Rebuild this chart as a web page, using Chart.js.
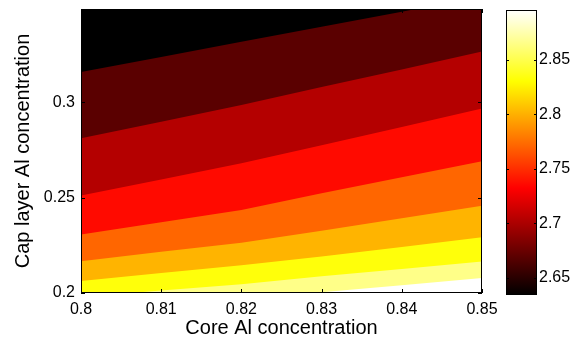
<!DOCTYPE html>
<html>
<head>
<meta charset="utf-8">
<script src="https://cdn.jsdelivr.net/npm/chart.js@4/dist/chart.umd.min.js"></script>
<style>
  body { margin: 0; background: #fff; }
  #wrap { position: relative; width: 586px; height: 340px; }
  #contour { position: absolute; left: 0; top: 0; }
  #colorbar { position: absolute; left: 490px; top: 0; }
</style>
</head>
<body>
<div id="wrap">
  <canvas id="contour" width="500" height="340"></canvas>
  <canvas id="colorbar" width="96" height="340"></canvas>
</div>
<script>
// data
const X_VALUES = [0.80, 0.81, 0.82, 0.83, 0.84, 0.85];

// contour boundaries (cap layer Al at each core Al value), top to bottom
const LEVEL_1 = [0.3159, 0.3238, 0.3318, 0.3397, 0.3476, 0.3556];
const LEVEL_2 = [0.2812, 0.2899, 0.2986, 0.3081, 0.3173, 0.3267];
const LEVEL_3 = [0.2512, 0.2596, 0.2681, 0.2775, 0.2871, 0.2968];
const LEVEL_4 = [0.2307, 0.2371, 0.2436, 0.2523, 0.2607, 0.2691];
const LEVEL_5 = [0.2167, 0.2216, 0.2264, 0.2327, 0.2392, 0.2458];
const LEVEL_6 = [0.2063, 0.2105, 0.2146, 0.2191, 0.2241, 0.2292];
const LEVEL_7 = [0.1979, 0.2013, 0.2046, 0.2088, 0.2126, 0.2165];
const LEVEL_8 = [0.1880, 0.1925, 0.1966, 0.2004, 0.2041, 0.2079];

// band colours, top band first
const BAND_COLORS = ['#000000', '#5a0000', '#b40000', '#ff0a00', '#ff6600', '#ffb400', '#ffff0a', '#ffff88', '#ffffff'];

const X_MIN = 0.8, X_MAX = 0.85;
const Y_MIN = 0.2, Y_MAX = 0.349;
const X_TICKS = [0.8, 0.81, 0.82, 0.83, 0.84, 0.85];
const Y_TICKS = [0.2, 0.25, 0.3];

const CB_MIN = 2.634, CB_MAX = 2.896;
const CB_TICKS = [2.65, 2.7, 2.75, 2.8, 2.85];

const FONT = "'Liberation Sans', Arial, Helvetica, sans-serif";


// plugins
const areaBackground = {
    id: 'areaBackground',
    beforeDatasetsDraw(chart, args, opts) {
        if (!opts.color) return;
        const a = chart.chartArea;
        chart.ctx.save();
        chart.ctx.fillStyle = opts.color;
        chart.ctx.fillRect(a.left, a.top, a.right - a.left, a.bottom - a.top);
        chart.ctx.restore();
    }
};

// matlab style box with ticks pointing inwards
const matlabBox = {
    id: 'matlabBox',
    afterDraw(chart, args, opts) {
        const ctx = chart.ctx;
        const a = chart.chartArea;
        const len = opts.tickLength || 4;
        ctx.save();
        ctx.strokeStyle = '#000';
        ctx.lineWidth = 1;
        ctx.beginPath();
        if (opts.xTicks) {
            const xs = chart.scales.x;
            xs.ticks.forEach(t => {
                const px = Math.round(xs.getPixelForValue(t.value)) + 0.5;
                ctx.moveTo(px, a.bottom);
                ctx.lineTo(px, a.bottom - len);
                ctx.moveTo(px, a.top);
                ctx.lineTo(px, a.top + len);
            });
        }
        const ys = chart.scales.y;
        ys.ticks.forEach(t => {
            const py = Math.round(ys.getPixelForValue(t.value)) + 0.5;
            ctx.moveTo(a.left, py);
            ctx.lineTo(a.left + len, py);
            ctx.moveTo(a.right, py);
            ctx.lineTo(a.right - len, py);
        });
        ctx.stroke();
        ctx.strokeRect(a.left + 0.5, a.top + 0.5, a.right - a.left - 1, a.bottom - a.top - 1);
        ctx.restore();
    }
};

// fixed axis sizes, no extra room for the end labels
function fixWidth(w) {
    return s => { s.width = w; s.paddingTop = 0; s.paddingBottom = 0; };
}
function fixHeight(h) {
    return s => { s.height = h; s.paddingLeft = 0; s.paddingRight = 0; };
}


// contour plot
function toPoints(values) {
    return X_VALUES.map((x, i) => ({x: x, y: values[i]}));
}

// lowest boundary first, so it is painted last (on top)
const levels = [LEVEL_8, LEVEL_7, LEVEL_6, LEVEL_5, LEVEL_4, LEVEL_3, LEVEL_2, LEVEL_1];
const datasets = levels.map((values, i) => ({
    data: toPoints(values),
    fill: 'start',
    backgroundColor: BAND_COLORS[BAND_COLORS.length - 1 - i],
    borderColor: 'rgba(0,0,0,0)',
    borderWidth: 0,
    pointRadius: 0,
    tension: 0
}));

new Chart(document.getElementById('contour'), {
    type: 'line',
    data: {datasets: datasets},
    plugins: [areaBackground, matlabBox],
    options: {
        responsive: false,
        animation: false,
        layout: {padding: {top: 9, right: 18, left: 0, bottom: 0}},
        scales: {
            x: {
                type: 'linear',
                min: X_MIN,
                max: X_MAX,
                afterBuildTicks: s => { s.ticks = X_TICKS.map(v => ({value: v})); },
                afterFit: fixHeight(47),
                grid: {display: false, drawTicks: false},
                border: {display: false},
                ticks: {
                    padding: 7,
                    color: '#000',
                    font: {family: FONT, size: 16},
                    callback: v => String(v)
                },
                title: {
                    display: true,
                    text: 'Core Al concentration',
                    color: '#000',
                    font: {family: FONT, size: 20},
                    padding: {top: 0, bottom: 0}
                }
            },
            y: {
                type: 'linear',
                min: Y_MIN,
                max: Y_MAX,
                afterBuildTicks: s => { s.ticks = Y_TICKS.map(v => ({value: v})); },
                afterFit: fixWidth(81),
                grid: {display: false, drawTicks: false},
                border: {display: false},
                ticks: {
                    padding: 6,
                    color: '#000',
                    font: {family: FONT, size: 16},
                    callback: v => String(v)
                },
                title: {
                    display: true,
                    text: 'Cap layer Al concentration',
                    color: '#000',
                    font: {family: FONT, size: 20},
                    padding: {top: 11, bottom: 0}
                }
            }
        },
        plugins: {
            legend: {display: false},
            tooltip: {enabled: false},
            areaBackground: {color: BAND_COLORS[0]},
            matlabBox: {xTicks: true, tickLength: 4}
        }
    }
});


// colorbar (hot colormap)
function hotGradient(context) {
    const chart = context.chart;
    const a = chart.chartArea;
    if (!a) return '#000';
    const g = chart.ctx.createLinearGradient(0, a.bottom, 0, a.top);
    g.addColorStop(0, '#000000');
    g.addColorStop(0.375, '#ff0000');
    g.addColorStop(0.75, '#ffff00');
    g.addColorStop(1, '#ffffff');
    return g;
}

new Chart(document.getElementById('colorbar'), {
    type: 'bar',
    data: {
        labels: [''],
        datasets: [{
            data: [[CB_MIN, CB_MAX]],
            backgroundColor: hotGradient,
            borderWidth: 0,
            barPercentage: 1,
            categoryPercentage: 1
        }]
    },
    plugins: [matlabBox],
    options: {
        responsive: false,
        animation: false,
        layout: {padding: {top: 10, left: 16, right: 0, bottom: 45}},
        scales: {
            x: {display: false},
            y: {
                position: 'right',
                min: CB_MIN,
                max: CB_MAX,
                afterBuildTicks: s => { s.ticks = CB_TICKS.map(v => ({value: v})); },
                afterFit: fixWidth(49),
                grid: {display: false, drawTicks: false},
                border: {display: false},
                ticks: {
                    padding: 2,
                    color: '#000',
                    font: {family: FONT, size: 16},
                    callback: v => String(v)
                }
            }
        },
        plugins: {
            legend: {display: false},
            tooltip: {enabled: false},
            matlabBox: {xTicks: false, tickLength: 3}
        }
    }
});
</script>
</body>
</html>
